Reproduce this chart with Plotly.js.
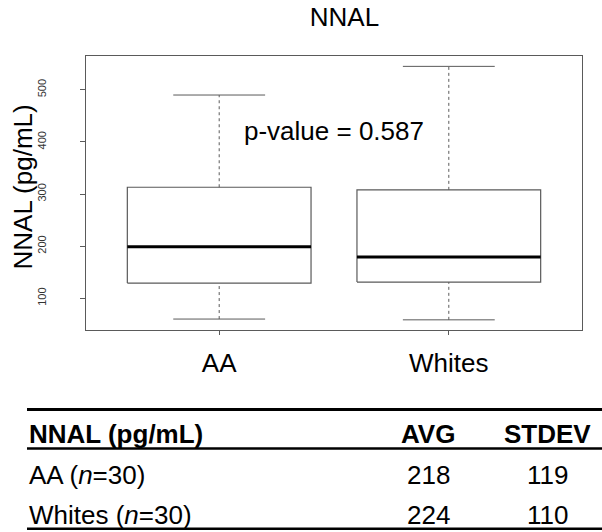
<!DOCTYPE html>
<html>
<head>
<meta charset="utf-8">
<script src="https://cdn.plot.ly/plotly-3.0.1.min.js"></script>
<style>
  html, body { margin: 0; padding: 0; background: #fff; }
  #chart { width: 602px; height: 532px; }
</style>
</head>
<body>
<div id="chart"></div>
<script>
// ---- data ----
const groups = ['AA', 'Whites'];
const lowerWhisker = [60, 58.5];
const q1 = [129, 131];
const median = [199, 179];
const q3 = [313, 308];
const upperWhisker = [490, 545];
const yTickVals = [100, 200, 300, 400, 500];
const chartTitle = 'NNAL';
const yTitle = 'NNAL (pg/mL)';
const pValueLabel = 'p-value = 0.587';
const tableHeader = ['NNAL (pg/mL)', 'AVG', 'STDEV'];
const tableGroups = ['AA (<i>n</i>=30)', 'Whites (<i>n</i>=30)'];
const avgValues = [218, 224];
const stdevValues = [119, 110];

// ---- styling ----
const FONT = 'Arial, "Liberation Sans", Helvetica, sans-serif';
const BOXCOL = '#5a5a5a';
const HALF = 0.4;   // half box width (x units)
const CAP = 0.2;    // half whisker cap width

const traces = [];
groups.forEach((g, i) => {
  const c = i + 1;
  const base = { type: 'scatter', mode: 'lines', hoverinfo: 'skip', showlegend: false };
  // dashed whiskers
  traces.push(Object.assign({}, base, {
    x: [c, c, null, c, c],
    y: [q3[i], upperWhisker[i], null, lowerWhisker[i], q1[i]],
    line: { color: BOXCOL, width: 1, dash: '3px,3px' }
  }));
  // whisker caps
  traces.push(Object.assign({}, base, {
    x: [c - CAP, c + CAP, null, c - CAP, c + CAP],
    y: [upperWhisker[i], upperWhisker[i], null, lowerWhisker[i], lowerWhisker[i]],
    line: { color: BOXCOL, width: 1 }
  }));
  // box
  traces.push(Object.assign({}, base, {
    x: [c - HALF, c + HALF, c + HALF, c - HALF, c - HALF],
    y: [q1[i], q1[i], q3[i], q3[i], q1[i]],
    line: { color: BOXCOL, width: 1.2 }
  }));
  // median
  traces.push(Object.assign({}, base, {
    x: [c - HALF, c + HALF],
    y: [median[i], median[i]],
    line: { color: '#000', width: 3 }
  }));
});

// ---- table below the plot (paper coordinates) ----
const PX0 = 86, PW = 496, PY0 = 330, PH = 274;
const px = v => (v - PX0) / PW;
const py = v => (PY0 - v) / PH;

const shapes = [
  { type: 'line', xref: 'paper', yref: 'paper', x0: px(27), x1: px(604), y0: py(409.5), y1: py(409.5), line: { color: '#000', width: 3 } },
  { type: 'line', xref: 'paper', yref: 'paper', x0: px(27), x1: px(604), y0: py(448.5), y1: py(448.5), line: { color: '#000', width: 2.5 } },
  { type: 'line', xref: 'paper', yref: 'paper', x0: px(27), x1: px(604), y0: py(528.8), y1: py(528.8), line: { color: '#000', width: 2.5 } }
];

const colX = [px(27), px(428), px(547.5)];
const rowY = [py(475), py(515.3)];
const annotations = [
  { x: 1.5, y: 420, xref: 'x', yref: 'y', text: pValueLabel, showarrow: false,
    xanchor: 'center', yanchor: 'middle', font: { family: FONT, size: 26, color: '#000' } },
  // y-axis title
  { x: px(22), y: py(187.5), xref: 'paper', yref: 'paper', text: yTitle, textangle: -90, showarrow: false,
    xanchor: 'center', yanchor: 'middle', font: { family: FONT, size: 26, color: '#000' } }
];
tableHeader.forEach((h, j) => {
  annotations.push({ x: colX[j], y: py(434), xref: 'paper', yref: 'paper', text: '<b>' + h + '</b>',
    showarrow: false, xanchor: j === 0 ? 'left' : 'center', yanchor: 'middle',
    font: { family: FONT, size: 26, color: '#000' } });
});
tableGroups.forEach((g, r) => {
  const row = [g, String(avgValues[r]), String(stdevValues[r])];
  row.forEach((t, j) => {
    annotations.push({ x: colX[j], y: rowY[r], xref: 'paper', yref: 'paper', text: t,
      showarrow: false, xanchor: j === 0 ? 'left' : 'center', yanchor: 'middle',
      font: { family: FONT, size: 26, color: '#000' } });
  });
});

const layout = {
  width: 602, height: 532,
  margin: { l: 86, r: 20, t: 56, b: 202, pad: 0 },
  paper_bgcolor: '#fff', plot_bgcolor: '#fff',
  font: { family: FONT, color: '#000' },
  showlegend: false,
  title: { text: chartTitle, x: 344.5 / 602, xanchor: 'center', y: 1 - 17 / 532, yanchor: 'middle',
           font: { family: FONT, size: 26, color: '#000' } },
  xaxis: {
    range: [0.42, 2.58], tickmode: 'array', tickvals: groups.map((g, i) => i + 1), ticktext: groups,
    showgrid: false, zeroline: false, showline: true, mirror: true, linecolor: BOXCOL, linewidth: 1,
    ticks: 'outside', ticklen: 4, tickcolor: BOXCOL, ticklabelstandoff: 6,
    tickfont: { family: FONT, size: 26, color: '#000' }, fixedrange: true
  },
  yaxis: {
    range: [39, 564.9], tickmode: 'array', tickvals: yTickVals, ticktext: yTickVals.map(String),
    showgrid: false, zeroline: false, showline: true, mirror: true, linecolor: BOXCOL, linewidth: 1,
    ticks: 'outside', ticklen: 5, tickcolor: BOXCOL, tickangle: -90, ticklabelstandoff: 30,
    tickfont: { family: FONT, size: 11, color: '#333' },
    fixedrange: true
  },
  shapes: shapes,
  annotations: annotations
};

Plotly.newPlot('chart', traces, layout, { staticPlot: true, displayModeBar: false });
</script>
</body>
</html>
